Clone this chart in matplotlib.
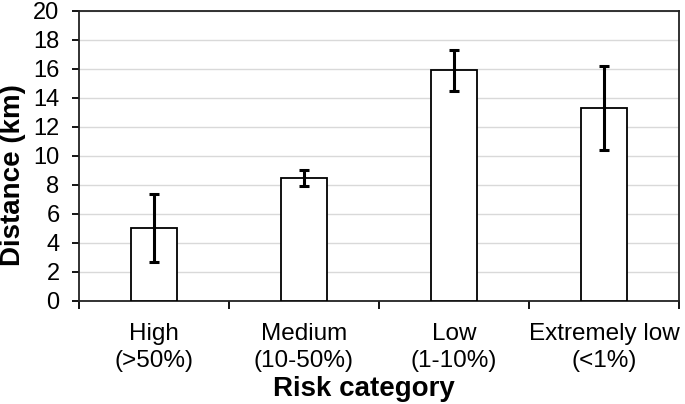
import numpy as np
import matplotlib
matplotlib.use("Agg")
import matplotlib.pyplot as plt
from matplotlib.ticker import FixedLocator, NullFormatter

plt.rcParams['font.family'] = ['Liberation Sans', 'DejaVu Sans']

categories = ["High\n(>50%)", "Medium\n(10-50%)", "Low\n(1-10%)", "Extremely low\n(<1%)"]
distance = [5.0, 8.5, 15.9, 13.3]
err = [2.35, 0.55, 1.4, 2.9]

fig = plt.figure(figsize=(6.85, 4.04), dpi=100)
ax = fig.add_axes([0.1153, 0.2557, 0.8758, 0.7171])

x = np.arange(len(categories))
ax.bar(x, distance, width=0.31, color="white", edgecolor="black", linewidth=1.3, zorder=3)
ax.errorbar(x, distance, yerr=err, fmt="none", ecolor="black", elinewidth=2.2,
            capsize=3.5, capthick=2.2, zorder=4)

ax.set_xlim(-0.5, len(categories) - 0.5)
ax.set_ylim(0, 20)
ax.set_yticks(np.arange(0, 21, 2))
ax.yaxis.grid(True, color="#d9d9d9", linewidth=1.0, zorder=0)
ax.set_axisbelow(True)

# category boundaries get the ticks, labels sit in the middle
ax.xaxis.set_major_locator(FixedLocator(np.arange(-0.5, len(categories), 1.0)))
ax.xaxis.set_major_formatter(NullFormatter())
ax.xaxis.set_minor_locator(FixedLocator(x))
ax.set_xticklabels(categories, minor=True, fontsize=17.5, linespacing=1.3)
ax.tick_params(axis="x", which="minor", length=0, pad=16)
ax.tick_params(axis="x", which="major", length=6, width=1.3, direction="out")
ax.tick_params(axis="y", length=5, width=1.3, labelsize=17, pad=9)

for s in ax.spines.values():
    s.set_linewidth(1.3)
    s.set_color("#222222")

ax.set_ylabel("Distance (km)", fontsize=20, fontweight="bold", va="center")
ax.yaxis.set_label_coords(-0.11, 0.434)
ax.set_xlabel("Risk category", fontsize=20, fontweight="bold", va="top")
ax.xaxis.set_label_coords(0.475, -0.26)

plt.savefig("out.png", dpi=100)
